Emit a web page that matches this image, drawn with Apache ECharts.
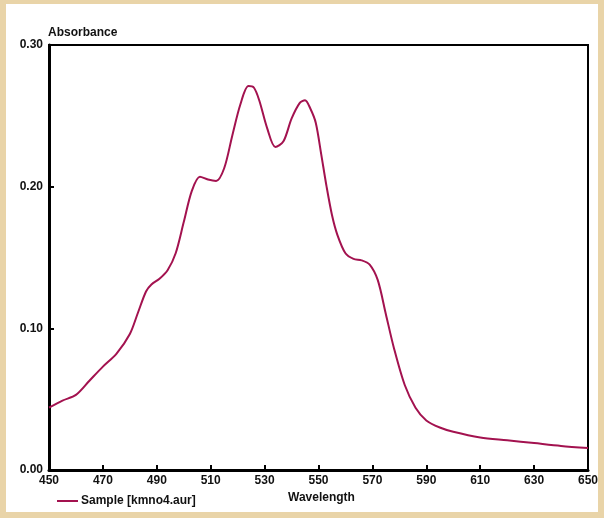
<!DOCTYPE html>
<html>
<head>
<meta charset="utf-8">
<script src="https://cdn.jsdelivr.net/npm/echarts@6/dist/echarts.min.js"></script>
<style>
  html, body { margin: 0; padding: 0; background: #e9d4a8; }
  #chart { width: 604px; height: 518px; }
</style>
</head>
<body>
<div id="chart"></div>
<script>
// wavelength (nm) and absorbance
var wavelengths = [450, 455, 460, 465, 470, 475, 480, 483, 486, 488, 491, 494, 497, 500, 503, 506, 509, 512, 515, 518, 521, 524, 526, 528, 531, 534, 537, 540, 543, 545, 547, 549, 551, 553, 555, 557, 560, 563, 566, 569, 572, 575, 578, 582, 586, 590, 595, 600, 610, 620, 630, 640, 650];
var absorbance = [0.044, 0.049, 0.053, 0.063, 0.073, 0.082, 0.096, 0.111, 0.126, 0.131, 0.135, 0.141, 0.153, 0.175, 0.197, 0.207, 0.205, 0.204, 0.213, 0.236, 0.258, 0.271, 0.270, 0.261, 0.241, 0.228, 0.232, 0.248, 0.259, 0.261, 0.255, 0.245, 0.223, 0.200, 0.180, 0.166, 0.153, 0.149, 0.148, 0.145, 0.134, 0.110, 0.086, 0.060, 0.044, 0.035, 0.030, 0.027, 0.023, 0.021, 0.019, 0.017, 0.0155];
var xTicks = [450, 470, 490, 510, 530, 550, 570, 590, 610, 630, 650];
var seriesName = 'Sample [kmno4.aur]';

var pts = [];
for (var i = 0; i < wavelengths.length; i++) {
  pts.push([wavelengths[i], absorbance[i]]);
}

var font = 'Liberation Sans, Arial, sans-serif';
var chart = echarts.init(document.getElementById('chart'));
chart.setOption({
  backgroundColor: '#e9d4a8',
  animation: false,
  graphic: [{
    type: 'rect', z: -10,
    shape: { x: 6, y: 4, width: 592, height: 508 },
    style: { fill: '#ffffff' }
  }],
  grid: {
    left: 49, right: 16, top: 45, bottom: 48,
    show: true, borderColor: '#000', borderWidth: 2, backgroundColor: 'transparent'
  },
  legend: {
    left: 52, top: 490,
    icon: 'rect', itemWidth: 21, itemHeight: 2, itemGap: 3,
    textStyle: { fontFamily: font, fontWeight: 'bold', fontSize: 12, color: '#111', padding: [0, 0, 0, -2] },
    data: [seriesName]
  },
  xAxis: {
    type: 'value', min: 450, max: 650, interval: 20,
    name: 'Wavelength', nameLocation: 'middle', nameGap: 21,
    nameTextStyle: { fontFamily: font, fontWeight: 'bold', fontSize: 12, color: '#111', padding: [0, 0, 0, 6] },
    axisLine: { lineStyle: { color: '#000', width: 3 } },
    axisTick: { inside: true, length: 5, lineStyle: { color: '#000', width: 2 } },
    axisLabel: {
      margin: 5, fontFamily: font, fontWeight: 'bold', fontSize: 12, color: '#111',
      customValues: xTicks
    },
    splitLine: { show: false }
  },
  yAxis: {
    type: 'value', min: 0, max: 0.3, interval: 0.1,
    name: 'Absorbance', nameLocation: 'end', nameGap: 5,
    nameTextStyle: { fontFamily: font, fontWeight: 'bold', fontSize: 12, color: '#111', align: 'left', padding: [0, 0, 0, -1] },
    axisLine: { show: true, lineStyle: { color: '#000', width: 3 } },
    axisTick: { show: true, inside: true, length: 5, lineStyle: { color: '#000', width: 2 } },
    axisLabel: {
      margin: 6, fontFamily: font, fontWeight: 'bold', fontSize: 12, color: '#111',
      formatter: function (v) { return v.toFixed(2); }
    },
    splitLine: { show: false }
  },
  series: [{
    name: seriesName,
    type: 'line',
    data: pts,
    smooth: 0.3,
    showSymbol: false,
    symbol: 'none',
    color: '#a3124f',
    lineStyle: { color: '#a3124f', width: 2 }
  }]
});
</script>
</body>
</html>
